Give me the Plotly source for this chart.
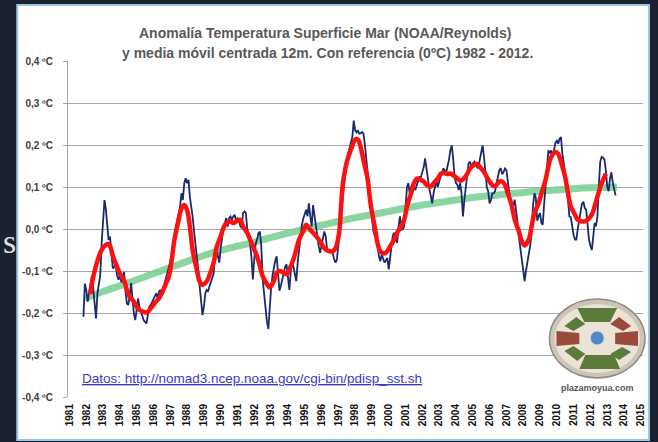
import plotly.graph_objects as go
import pandas as pd

# ---------------- DATA ----------------
start_month = "1981-11-01"
# Monthly SST anomaly (ºC), Nov 1981 -> Jul 2013
monthly_anomaly = [
    -0.209, -0.130,                                                                 # 1981 Nov-Dec
    -0.145, -0.173, -0.153, -0.129, -0.113, -0.141, -0.185, -0.213, -0.153, -0.129, -0.110, -0.034,  # 1982
    0.029, 0.069, 0.049, 0.017, -0.026, -0.018, -0.066, -0.094, -0.090, -0.086, -0.110, -0.121,    # 1983
    -0.110, -0.125, -0.125, -0.102, -0.145, -0.177, -0.181, -0.161, -0.129, -0.177, -0.201, -0.217,  # 1984
    -0.185, -0.165, -0.185, -0.197, -0.209, -0.217, -0.221, -0.225, -0.205, -0.185, -0.181, -0.173,  # 1985
    -0.165, -0.161, -0.153, -0.165, -0.149, -0.145, -0.157, -0.141, -0.129, -0.117, -0.106, -0.094,  # 1986
    -0.078, -0.058, -0.042, -0.022, 0.002, 0.021, 0.041, 0.053, 0.085, 0.069, 0.109, 0.121,          # 1987
    0.109, 0.117, 0.077, 0.057, 0.029, -0.006, -0.034, -0.058, -0.098, -0.137, -0.177, -0.205,       # 1988
    -0.185, -0.153, -0.145, -0.149, -0.137, -0.125, -0.113, -0.106, -0.060, -0.040, -0.065, -0.080,  # 1989
    -0.045, -0.020, 0.000, 0.014, 0.026, 0.006, 0.026, 0.030, 0.022, 0.030, 0.034, 0.018,            # 1990
    0.025, 0.020, 0.008, 0.002, 0.038, 0.042, 0.038, 0.000, -0.020, -0.033, -0.069, -0.120,          # 1991
    -0.070, -0.035, -0.025, -0.010, -0.006, -0.041, -0.120, -0.160, -0.190, -0.220, -0.238, -0.183,  # 1992
    -0.140, -0.110, -0.090, -0.075, -0.065, -0.104, -0.147, -0.135, -0.120, -0.112, -0.090, -0.084,  # 1993
    -0.116, -0.145, -0.104, -0.080, -0.090, -0.112, -0.124, -0.080, -0.050, -0.010, 0.010, 0.025,    # 1994
    0.034, 0.046, 0.030, 0.061, 0.030, 0.006, 0.057, 0.030, 0.006, -0.025, -0.041, -0.057,           # 1995
    -0.040, -0.025, -0.006, -0.017, -0.049, -0.053, -0.053, -0.055, -0.057, -0.072, -0.080, -0.072,  # 1996
    -0.040, -0.010, 0.030, 0.069, 0.100, 0.140, 0.165, 0.180, 0.195, 0.203, 0.219, 0.258,            # 1997
    0.235, 0.230, 0.235, 0.227, 0.228, 0.231, 0.227, 0.200, 0.165, 0.140, 0.100, 0.061,              # 1998
    0.025, -0.005, -0.015, -0.025, -0.033, -0.065, -0.077, -0.061, -0.070, -0.080, -0.075, -0.069,   # 1999
    -0.096, -0.057, -0.041, -0.015, -0.009, -0.017, -0.033, 0.006, 0.030, -0.002, 0.000, 0.006,      # 2000
    0.046, 0.100, 0.109, 0.085, 0.100, 0.105, 0.097, 0.093, 0.105, 0.117, 0.124, 0.124,              # 2001
    0.135, 0.148, 0.168, 0.140, 0.109, 0.095, 0.080, 0.061, 0.085, 0.105, 0.115, 0.100,              # 2002
    0.117, 0.125, 0.132, 0.144, 0.140, 0.132, 0.150, 0.164, 0.187, 0.199, 0.168, 0.124,              # 2003
    0.110, 0.105, 0.093, 0.109, 0.085, 0.030, 0.069, 0.100, 0.120, 0.156, 0.160, 0.148,              # 2004
    0.156, 0.160, 0.152, 0.148, 0.144, 0.164, 0.187, 0.199, 0.172, 0.130, 0.100, 0.090,              # 2005
    0.061, 0.069, 0.085, 0.085, 0.090, 0.109, 0.124, 0.140, 0.145, 0.130, 0.136, 0.144,              # 2006
    0.140, 0.105, 0.090, 0.070, 0.060, 0.055, 0.070, 0.045, 0.015, -0.020, -0.045, -0.065,           # 2007
    -0.100, -0.124, -0.100, -0.075, -0.060, -0.040, -0.010, 0.055, 0.085, 0.075, 0.020, 0.030,       # 2008
    0.038, 0.014, 0.010, 0.060, 0.100, 0.160, 0.187, 0.180, 0.187, 0.170, 0.185, 0.205,              # 2009
    0.210, 0.203, 0.215, 0.219, 0.180, 0.155, 0.140, 0.110, 0.069, 0.030, 0.028, 0.005,              # 2010
    -0.015, -0.025, -0.025, 0.000, 0.020, 0.040, 0.060, 0.065, 0.050, 0.046, 0.000, -0.025,          # 2011
    -0.040, -0.050, -0.020, 0.014, 0.006, 0.030, 0.100, 0.160, 0.172, 0.170, 0.165, 0.140,           # 2012
    0.100, 0.090, 0.120, 0.135, 0.110, 0.090, 0.080,                                                 # 2013
]

# 12-month centred moving average (red), months after Nov 1981
red_month_index = [
    5, 6, 8, 11, 13, 16, 18, 19, 21, 24, 26, 29, 31, 33, 36, 38, 40, 43, 45, 46,
    49, 51, 54, 56, 58, 61, 63, 65, 68, 70, 72, 74, 76, 78, 81, 83, 85, 88, 90, 93,
    95, 98, 100, 102, 105, 107, 109, 112, 114, 117, 119, 121, 124, 126, 128, 131, 133, 136, 138, 140,
    143, 145, 147, 150, 152, 154, 157, 159, 161, 164, 166, 169, 171, 173, 176, 178, 180, 182, 183, 184,
    185, 186, 188, 190, 192, 194, 196, 198, 200, 203, 205, 208, 210, 212, 215, 217, 219, 222, 224, 226,
    229, 231, 234, 236, 238, 241, 243, 245, 248, 250, 253, 255, 257, 260, 262, 264, 267, 269, 271, 274,
    276, 279, 281, 283, 286, 288, 290, 293, 295, 297, 299, 301, 303, 306, 308, 311, 313, 315, 318, 320,
    322, 325, 327, 330, 332, 334, 337, 339, 341, 344, 346, 348, 351, 353, 356, 358, 360, 363, 365, 367,
    370, 372, 373,
]
red_values = [
    -0.155, -0.133, -0.100, -0.066, -0.050, -0.038, -0.036, -0.040, -0.064, -0.090, -0.106, -0.122, -0.145, -0.161, -0.173, -0.185, -0.193, -0.197, -0.199, -0.197,
    -0.185, -0.176, -0.165, -0.153, -0.137, -0.113, -0.074, -0.026, 0.021, 0.049, 0.057, 0.045, 0.006, -0.050, -0.098, -0.125, -0.133, -0.125, -0.110, -0.080,
    -0.045, -0.017, 0.002, 0.014, 0.018, 0.014, 0.018, 0.022, 0.006, -0.009, -0.025, -0.041, -0.065, -0.088, -0.112, -0.131, -0.139, -0.124, -0.104, -0.100,
    -0.104, -0.108, -0.096, -0.072, -0.049, -0.025, -0.005, 0.010, 0.002, -0.009, -0.017, -0.029, -0.041, -0.049, -0.053, -0.053, -0.045, -0.020, 0.006, 0.054,
    0.100, 0.125, 0.158, 0.180, 0.198, 0.213, 0.213, 0.195, 0.164, 0.117, 0.061, 0.006, -0.033, -0.053, -0.058, -0.053, -0.041, -0.025, -0.009, 0.002,
    0.022, 0.054, 0.085, 0.109, 0.120, 0.117, 0.113, 0.105, 0.101, 0.109, 0.120, 0.131, 0.134, 0.131, 0.132, 0.128, 0.120, 0.115, 0.118, 0.131,
    0.144, 0.153, 0.155, 0.148, 0.136, 0.124, 0.113, 0.102, 0.105, 0.113, 0.113, 0.105, 0.085, 0.054, 0.022, -0.006, -0.029, -0.039, -0.025, 0.006,
    0.038, 0.061, 0.085, 0.117, 0.148, 0.172, 0.183, 0.179, 0.160, 0.124, 0.085, 0.054, 0.034, 0.022, 0.018, 0.018, 0.022, 0.034, 0.054, 0.077,
    0.109, 0.124, 0.132,
]

# Smooth trend (green)
trend_dates = [
    "1981-12-01", "1983-01-01", "1984-01-01", "1985-01-01", "1986-01-01", "1987-01-01", "1988-01-01",
    "1989-01-01", "1990-01-01", "1991-01-01", "1992-01-01", "1993-01-01", "1994-01-01", "1995-01-01",
    "1996-01-01", "1997-01-01", "1998-01-01", "1999-01-01", "2000-01-01", "2001-01-01", "2002-01-01",
    "2003-01-01", "2004-01-01", "2005-01-01", "2006-01-01", "2007-01-01", "2008-01-01", "2009-01-01",
    "2010-01-01", "2011-01-01", "2012-01-01", "2013-01-01", "2013-08-01",
]
trend_values = [
    -0.166, -0.149, -0.135, -0.121, -0.106, -0.092, -0.077,
    -0.063, -0.051, -0.041, -0.031, -0.020, -0.010, 0.000,
    0.009, 0.018, 0.027, 0.034, 0.042, 0.050, 0.057,
    0.063, 0.069, 0.075, 0.079, 0.083, 0.087, 0.090,
    0.093, 0.096, 0.098, 0.099, 0.100,
]

year_ticks = list(range(1981, 2016))
y_ticks = [-0.4, -0.3, -0.2, -0.1, 0.0, 0.1, 0.2, 0.3, 0.4]
y_tick_labels = ["-0,4 ºC", "-0,3 ºC", "-0,2 ºC", "-0,1 ºC", "0,0 ºC", "0,1 ºC", "0,2 ºC", "0,3 ºC", "0,4 ºC"]

title_line1 = "Anomalía Temperatura Superficie Mar (NOAA/Reynolds)"
title_line2 = "y media móvil centrada 12m. Con referencia (0ºC) 1982 - 2012."
source_text = "Datos: http://nomad3.ncep.noaa.gov/cgi-bin/pdisp_sst.sh"
logo_text = "plazamoyua.com"

# ---------------- BUILD ----------------
monthly_dates = pd.date_range(start_month, periods=len(monthly_anomaly), freq="MS")
red_dates = [pd.Timestamp(start_month) + pd.DateOffset(months=m) for m in red_month_index]

W, H = 658, 442
L, R, T, B = 68, 646, 61, 397


def px(x):
    return (x - L) / (R - L)


def py(y):
    return (B - y) / (B - T)


def poly(points):
    return "M " + " L ".join(f"{px(x):.5f},{py(y):.5f}" for x, y in points) + " Z"


fig = go.Figure()
fig.add_trace(go.Scatter(x=pd.to_datetime(trend_dates), y=trend_values, mode="lines",
                         line=dict(color="rgba(124,210,150,0.9)", width=7, shape="spline"),
                         hoverinfo="skip", showlegend=False))
fig.add_trace(go.Scatter(x=monthly_dates, y=monthly_anomaly, mode="lines",
                         line=dict(color="#1a2a6c", width=1.8), showlegend=False))
fig.add_trace(go.Scatter(x=red_dates, y=red_values, mode="lines",
                         line=dict(color="#ff1010", width=4.5, shape="spline", smoothing=1.0),
                         showlegend=False))

shapes = []
# white card with light-blue border
shapes.append(dict(type="rect", xref="paper", yref="paper", layer="below",
                   x0=px(17), x1=px(652), y0=py(440), y1=py(5),
                   fillcolor="white", line=dict(color="#9ec4e6", width=2)))
# logo
shapes.append(dict(type="circle", xref="paper", yref="paper", layer="above",
                   x0=px(552), x1=px(648), y0=py(378), y1=py(299),
                   fillcolor="#cdc4b8", line=dict(color="#8f8983", width=1.5)))
shapes.append(dict(type="circle", xref="paper", yref="paper", layer="above",
                   x0=px(557), x1=px(643), y0=py(373), y1=py(304),
                   fillcolor="#ebe3d5", line=dict(width=0)))
green = "#5c7a3a"
brown = "#9a4b3b"
segs = [
    ([(580, 308), (620, 308), (613, 322), (587, 322)], green),
    ([(588, 355), (617, 355), (623, 369), (582, 369)], green),
    ([(559, 331), (582, 333), (582, 344), (559, 346)], brown),
    ([(618, 333), (641, 331), (641, 346), (618, 344)], brown),
    ([(567, 326), (579, 317), (588, 324), (576, 331)], green),
    ([(613, 324), (622, 317), (634, 326), (626, 331)], brown),
    ([(567, 351), (576, 346), (588, 354), (580, 361)], green),
    ([(613, 354), (625, 347), (634, 352), (622, 360)], green),
]
for pts, col in segs:
    shapes.append(dict(type="path", xref="paper", yref="paper", layer="above",
                       path=poly(pts), fillcolor=col, line=dict(width=0)))
shapes.append(dict(type="circle", xref="paper", yref="paper", layer="above",
                   x0=px(593), x1=px(607), y0=py(345), y1=py(331),
                   fillcolor="#4f88c8", line=dict(color="#d9d9d9", width=1)))

annotations = [
    dict(text=title_line1, x=px(326), y=py(33), xref="paper", yref="paper", showarrow=False,
         xanchor="center", yanchor="middle",
         font=dict(family="Liberation Sans", size=14, color="#595959", weight="bold")),
    dict(text=title_line2, x=px(329), y=py(53), xref="paper", yref="paper", showarrow=False,
         xanchor="center", yanchor="middle",
         font=dict(family="Liberation Sans", size=14, color="#595959", weight="bold")),
    dict(text="<u>" + source_text + "</u>", x=px(80), y=py(378), xref="paper", yref="paper",
         showarrow=False, xanchor="left", yanchor="middle",
         font=dict(family="Liberation Sans", size=13.5, color="#3838c8")),
    dict(text=logo_text, x=px(600), y=py(388), xref="paper", yref="paper", showarrow=False,
         xanchor="center", yanchor="middle",
         font=dict(family="Liberation Sans", size=9, color="#555555", weight="bold")),
    dict(text="s", x=px(0.5), y=py(241), xref="paper", yref="paper", showarrow=False,
         xanchor="left", yanchor="middle",
         font=dict(family="Liberation Serif", size=34, color="#e0e0e0")),
]

fig.update_layout(
    width=W, height=H,
    margin=dict(l=L, r=W - R, t=T, b=H - B, pad=0),
    paper_bgcolor="#1b2130",
    plot_bgcolor="white",
    shapes=shapes,
    annotations=annotations,
    showlegend=False,
    xaxis=dict(type="date", range=["1980-11-30", "2015-02-17"],
               tickvals=[pd.Timestamp(f"{y}-01-01") for y in year_ticks],
               ticktext=[str(y) for y in year_ticks],
               tickangle=-90, showgrid=False, zeroline=False, showline=False,
               ticks="", ticklabelstandoff=4,
               tickfont=dict(family="Liberation Sans", size=10, color="#111111", weight="bold")),
    yaxis=dict(range=[-0.4, 0.4], tickvals=y_ticks, ticktext=y_tick_labels,
               showgrid=True, gridcolor="#a6a6a6", gridwidth=1, zeroline=False,
               showline=True, linecolor="#a6a6a6", linewidth=1,
               ticks="outside", ticklen=4, tickcolor="#a6a6a6", ticklabelstandoff=8,
               tickfont=dict(family="Liberation Sans", size=10, color="#404040", weight="bold")),
)

fig.write_html("out.html", config={"displayModeBar": False},
               post_script="document.body.style.margin='0';document.body.style.background='#1b2130';")
